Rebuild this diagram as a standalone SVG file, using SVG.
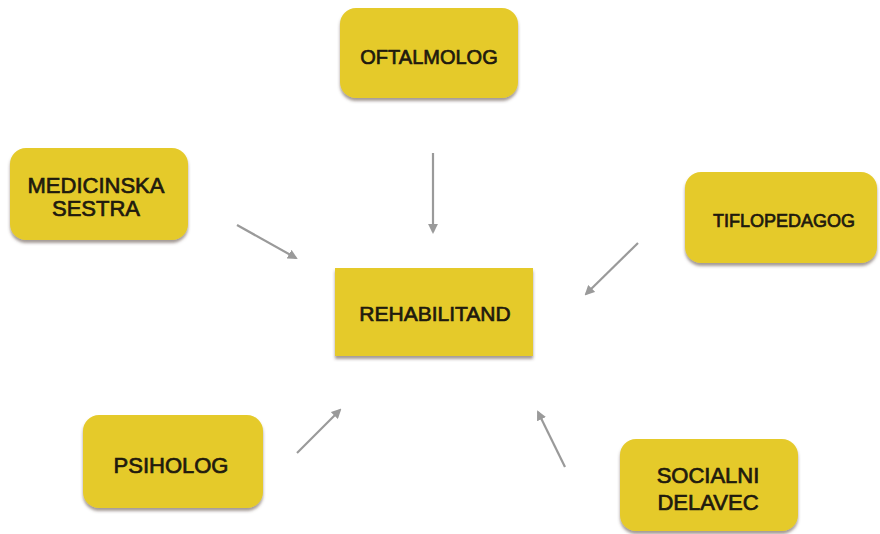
<svg xmlns="http://www.w3.org/2000/svg" width="880" height="534" viewBox="0 0 880 534">
  <style>
    .box { fill: #e5ca2b; filter: url(#shadow); }
    .lbl { font-family: "Liberation Sans", Arial, sans-serif; fill: #1f1a0e; stroke: #1f1a0e; stroke-width: 0.7; text-anchor: middle; }
    .conn line { stroke: #9a9a9a; stroke-width: 2.2; marker-end: url(#head); }
  </style>
  <defs>
    <filter id="shadow" x="-10%" y="-10%" width="120%" height="130%">
      <feDropShadow dx="0" dy="3" stdDeviation="1.6" flood-color="#5a4a40" flood-opacity="0.55"/>
    </filter>
    <marker id="head" viewBox="0 0 10 10" refX="8" refY="5" markerWidth="4.5" markerHeight="4.5" orient="auto" markerUnits="strokeWidth">
      <path d="M0,0 L10,5 L0,10 z" fill="#9a9a9a"/>
    </marker>
  </defs>
  <rect width="880" height="534" fill="#ffffff"/>

  <g id="connectors" class="conn">
    <line x1="433" y1="153" x2="433" y2="232"/>
    <line x1="237" y1="225" x2="296" y2="258"/>
    <line x1="638" y1="243" x2="586" y2="294"/>
    <line x1="297" y1="453" x2="340" y2="410"/>
    <line x1="565" y1="467" x2="538" y2="412"/>
  </g>

  <g id="oftalmolog">
    <rect class="box" x="340" y="8" width="178" height="90" rx="16"/>
    <text class="lbl" x="429" y="64" font-size="20">OFTALMOLOG</text>
  </g>

  <g id="medicinska-sestra">
    <rect class="box" x="10" y="148" width="178" height="92" rx="16"/>
    <text class="lbl" x="96" y="193" font-size="22">MEDICINSKA</text>
    <text class="lbl" x="96" y="216" font-size="22">SESTRA</text>
  </g>

  <g id="tiflopedagog">
    <rect class="box" x="685" y="172" width="192" height="91" rx="16"/>
    <text class="lbl" x="784" y="226.5" font-size="18">TIFLOPEDAGOG</text>
  </g>

  <g id="rehabilitand">
    <rect class="box" x="335" y="268" width="198" height="88"/>
    <text class="lbl" x="435" y="320.5" font-size="21">REHABILITAND</text>
  </g>

  <g id="psiholog">
    <rect class="box" x="83" y="415" width="180" height="93" rx="16"/>
    <text class="lbl" x="171" y="473" font-size="22">PSIHOLOG</text>
  </g>

  <g id="socialni-delavec">
    <rect class="box" x="620" y="439" width="178" height="92" rx="16"/>
    <text class="lbl" x="708" y="483" font-size="22">SOCIALNI</text>
    <text class="lbl" x="708" y="510" font-size="22">DELAVEC</text>
  </g>
</svg>
